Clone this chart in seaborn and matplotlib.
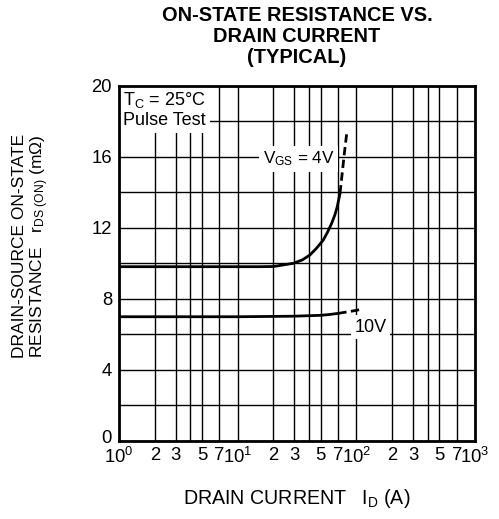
import numpy as np
import pandas as pd
import matplotlib
matplotlib.use('Agg')
import matplotlib.pyplot as plt
import matplotlib.transforms as mtransforms
import seaborn as sns

# Data
id_4v = [1, 5, 10, 15, 20, 29.4, 35, 40.6, 46, 52.6, 57, 61.9, 66, 69, 72.8]
r_4v = [9.82, 9.82, 9.82, 9.82, 9.83, 10.01, 10.2, 10.48, 10.85, 11.32, 11.75, 12.26, 12.75, 13.2, 13.95]
id_4v_dash = [72.8, 76, 79.5, 83]
r_4v_dash = [13.95, 15.1, 16.3, 17.35]

id_10v = [1, 10, 29.4, 50, 60, 70.4]
r_10v = [7.0, 7.0, 7.03, 7.08, 7.13, 7.19]
id_10v_dash = [70.4, 85, 100, 109]
r_10v_dash = [7.19, 7.28, 7.36, 7.42]

x_ticks = [1, 2, 3, 5, 7, 10, 20, 30, 50, 70, 100, 200, 300, 500, 700, 1000]
x_ticklabels = ['$10^0$', '2', '3', '5', '7', '$10^1$', '2', '3', '5', '7',
                '$10^2$', '2', '3', '5', '7', '$10^3$']
x_grid = [m * d for d in [1, 10, 100] for m in [1, 2, 3, 4, 5, 7]] + [1000]
y_ticks = [0, 4, 8, 12, 16, 20]
y_grid = list(range(0, 21, 2))

sns.set_style('white')
plt.rcParams['font.family'] = ['Liberation Sans', 'DejaVu Sans']
plt.rcParams['mathtext.fontset'] = 'custom'
plt.rcParams['mathtext.rm'] = 'Liberation Sans'
plt.rcParams['mathtext.it'] = 'Liberation Sans'
plt.rcParams['mathtext.default'] = 'regular'
plt.rcParams['text.color'] = 'black'
plt.rcParams['axes.labelcolor'] = 'black'
plt.rcParams['xtick.color'] = 'black'
plt.rcParams['ytick.color'] = 'black'

fig = plt.figure(figsize=(4.99, 5.19), dpi=100)
ax = fig.add_axes([0.2385, 0.1503, 0.7135, 0.684])

for xv in x_grid:
    ax.axvline(xv, color='black', lw=1.0, zorder=1)
for yv in y_grid:
    ax.axhline(yv, color='black', lw=1.0, zorder=1)

sns.lineplot(x=id_4v, y=r_4v, ax=ax, color='black', lw=2, zorder=5)
sns.lineplot(x=id_4v_dash, y=r_4v_dash, ax=ax, color='black', lw=2,
             linestyle=(0, (3, 1.6)), zorder=5)
sns.lineplot(x=id_10v, y=r_10v, ax=ax, color='black', lw=2, zorder=5)
sns.lineplot(x=id_10v_dash, y=r_10v_dash, ax=ax, color='black', lw=2,
             linestyle=(0, (3, 1.6)), zorder=5)

ax.set_xscale('log')
ax.set_xlim(1, 1000)
ax.set_ylim(0, 20)
ax.set_xticks(x_ticks)
ax.set_xticklabels(x_ticklabels)
ax.minorticks_off()
ax.set_yticks(y_ticks)
ax.tick_params(length=0, labelsize=13.3)
ax.tick_params(axis='x', pad=4)
ax.tick_params(axis='y', pad=5)
# nudge the "0" label up so it clears the 10^0 label
lbl0 = ax.get_yticklabels()[0]
lbl0.set_transform(lbl0.get_transform() +
                   mtransforms.ScaledTranslation(0, 3 / 72, fig.dpi_scale_trans))
for s in ax.spines.values():
    s.set_linewidth(2)
    s.set_color('black')
    s.set_zorder(10)

ax.text(1.09, 19.8, 'T$_{C}$ = 25°C\nPulse Test', fontsize=13, va='top', ha='left',
        linespacing=1.2, zorder=6,
        bbox=dict(facecolor='white', edgecolor='none', pad=2.5))
ax.text(16.3, 15.9, 'V$_{GS}$ = 4V', fontsize=12.3, va='center', ha='left', zorder=6,
        bbox=dict(facecolor='white', edgecolor='none', pad=2.5))
ax.text(96, 6.4, '10V', fontsize=13, va='center', ha='left', zorder=6,
        bbox=dict(facecolor='white', edgecolor='none', pad=2.5))

fig.text(0.595, 0.988, 'ON-STATE RESISTANCE VS.\nDRAIN CURRENT\n(TYPICAL)',
         ha='center', va='top', fontsize=14.4, fontweight='bold', linespacing=1.12)
fig.text(0.595, 0.040, 'DRAIN CURRENT   I$_{D}$ (A)', ha='center', va='center',
         fontsize=14.1)
fig.text(0.063, 0.526, 'DRAIN-SOURCE ON-STATE\nRESISTANCE   r$_{DS\\ (ON)}$ (mΩ)',
         rotation=90, ha='center', va='center', fontsize=12.5, linespacing=1.12)

fig.savefig('out.png', dpi=100)
